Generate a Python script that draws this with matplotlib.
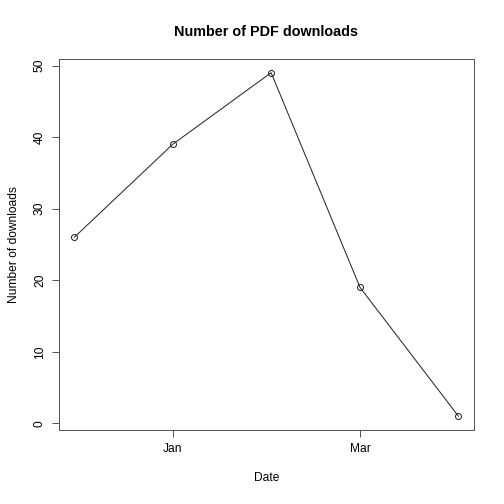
import datetime as dt
import matplotlib
matplotlib.use("Agg")
import matplotlib.pyplot as plt
import matplotlib.dates as mdates

months = [dt.date(2013, 12, 1), dt.date(2014, 1, 1), dt.date(2014, 2, 1),
          dt.date(2014, 3, 1), dt.date(2014, 4, 1)]
downloads = [26, 39, 49, 19, 1]
tick_dates = [dt.date(2014, 1, 1), dt.date(2014, 3, 1)]
tick_labels = ["Jan", "Mar"]
y_ticks = [0, 10, 20, 30, 40, 50]

plt.rcParams["font.family"] = ["Liberation Sans", "DejaVu Sans"]

fig = plt.figure(figsize=(7, 7), dpi=72)
ax = fig.add_axes([0.117, 0.147, 0.823, 0.736])

x = mdates.date2num(months)
ax.plot(x, downloads, color="#222222", lw=1, marker="o", ms=6,
        mfc="none", mec="#222222", mew=1)

span = x[-1] - x[0]
ax.set_xlim(x[0] - 0.04 * span, x[-1] + 0.04 * span)
yr = max(downloads) - min(downloads)
ax.set_ylim(min(downloads) - 0.04 * yr, max(downloads) + 0.04 * yr)

ax.set_xticks(mdates.date2num(tick_dates))
ax.set_xticklabels(tick_labels)
ax.set_yticks(y_ticks)
ax.set_yticklabels([str(v) for v in y_ticks], rotation=90, va="center")

ax.tick_params(direction="out", length=7, width=1, labelsize=12, pad=6,
               color="#555555")
for s in ax.spines.values():
    s.set_color("#555555")
    s.set_linewidth(1)

ax.set_xlabel("Date", fontsize=12, labelpad=17)
ax.set_ylabel("Number of downloads", fontsize=12, labelpad=14)
ax.set_title("Number of PDF downloads", fontsize=14.4, fontweight="bold", pad=23)

fig.savefig("out.png", dpi=72)
